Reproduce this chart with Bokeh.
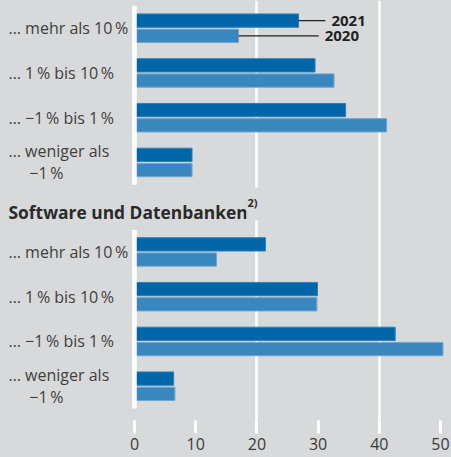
from bokeh.plotting import figure
from bokeh.models import Range1d, FixedTicker, ColumnDataSource
from bokeh.core.properties import value
from bokeh.embed import file_html
from bokeh.resources import INLINE

# ---------------- data ----------------
NB = "\u00a0"
categories = ["… mehr als 10\u2009%", "… 1\u2009% bis 10\u2009%",
              "… \u22121\u2009% bis 1\u2009%", "… weniger als\n" + NB * 5 + "\u22121\u2009%"]
top_2021 = [26.8, 29.5, 34.5, 9.4]
top_2020 = [17.0, 32.6, 41.2, 9.4]
sw_2021 = [21.4, 29.9, 42.6, 6.4]
sw_2020 = [13.4, 29.8, 50.4, 6.6]
series = ["2021", "2020"]
panel_title = "Software und Datenbanken"
panel_note = "2)"
x_ticks = [0, 10, 20, 30, 40, 50]
grid_ticks = [20, 40]

# ---------------- layout ----------------
BG = "#d8d9da"
DARK = "#0066a8"
LIGHT = "#3a87c0"
TXT = "#3a3a3a"
FONT = "Open Sans"

W, FH = 451, 420          # frame size
PX = 6.12                 # px per unit
X0 = 134                  # pixel of value 0
PITCH = 44.75             # px per row
R0 = 27.7                 # pixel of first row centre
x_start, x_end = -X0 / PX, (W - X0) / PX
y_top, y_bot = -R0 / PITCH, (FH - R0) / PITCH
off = 7.6 / PITCH
bh = 13.3 / PITCH

p = figure(frame_width=W, frame_height=FH, output_backend="svg", toolbar_location=None,
           x_range=Range1d(x_start, x_end), y_range=Range1d(y_bot, y_top),
           y_axis_location=None, min_border=0)
p.background_fill_color = BG
p.border_fill_color = BG
p.outline_line_color = None
p.ygrid.visible = False
p.xgrid.ticker = FixedTicker(ticks=grid_ticks)
p.xgrid.grid_line_color = "white"
p.xgrid.grid_line_width = 2.5

ax = p.xaxis[0]
ax.ticker = FixedTicker(ticks=x_ticks)
ax.axis_line_color = None
ax.major_tick_line_color = "white"
ax.major_tick_line_width = 3
ax.major_tick_in = 0
ax.major_tick_out = 13
ax.minor_tick_line_color = None
ax.major_label_standoff = 4
ax.major_label_text_font = FONT
ax.major_label_text_font_size = "16px"
ax.major_label_text_color = TXT

panels = [(0, top_2021, top_2020), (5, sw_2021, sw_2020)]
for start, v21, v20 in panels:
    rows = [start + i for i in range(len(categories))]
    src = ColumnDataSource(dict(
        y21=[r - off for r in rows], y20=[r + off for r in rows],
        v21=v21, v20=v20, y=rows, lab=categories))
    p.hbar(y="y21", left=0, right="v21", height=bh, source=src,
           fill_color=DARK, line_color="#2d7fbd", line_width=1)
    p.hbar(y="y20", left=0, right="v20", height=bh, source=src,
           fill_color=LIGHT, line_color="#6fa6d1", line_width=1)
    p.segment(x0=[0], x1=[0], y0=[rows[0] - 0.5], y1=[rows[-1] + 0.5],
              line_color="white", line_width=4.5)
    p.text(x=x_start, y="y", text="lab", source=src, x_offset=8,
           text_font=value(FONT), text_font_size="16px", text_color="#404040",
           text_align="left", text_baseline="middle", text_line_height=1.0)

# legend with leader lines (first row of top panel)
lead_end = [31.2, 30.1]
lead_y = [0 - off, 0 + off]
lead_v = [top_2021[0], top_2020[0]]
p.segment(x0=lead_v, x1=lead_end, y0=lead_y, y1=lead_y, line_color="#222222", line_width=1.3)
p.text(x=lead_end, y=lead_y, text=series, x_offset=6,
       text_font=value(FONT), text_font_size="15px", text_font_style="bold",
       text_color="#222222", text_align="left", text_baseline="middle")

# panel title
p.text(x=[x_start], y=[4.10], text=[panel_title], x_offset=2,
       text_font=value(FONT), text_font_size="17.4px", text_font_style="bold",
       text_color="#2a2a2a", text_align="left", text_baseline="middle",
       background_fill_color=BG, padding=6)
p.text(x=[18.3], y=[3.93], text=[panel_note], x_offset=0,
       text_font=value(FONT), text_font_size="11px", text_font_style="bold",
       text_color="#2a2a2a", text_align="left", text_baseline="middle",
       background_fill_color=BG, padding=(1, 11, 7, 11))

html = file_html(p, INLINE)
html = html.replace("</head>", "<style>html,body{background:%s;overflow:hidden;}</style></head>" % BG, 1)
open("out.html", "w").write(html)
